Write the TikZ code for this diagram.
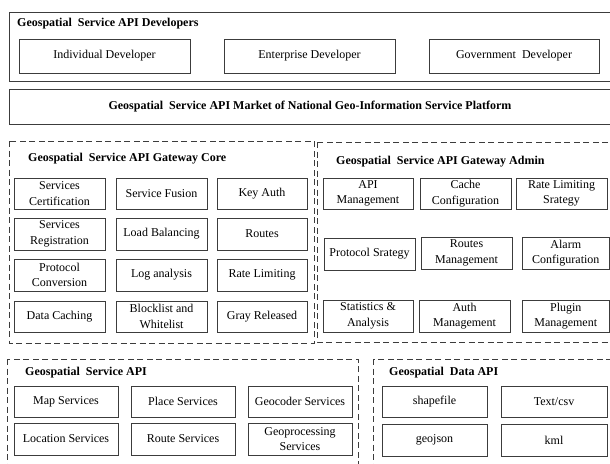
\documentclass[tikz,border=0pt]{standalone}
\usepackage{fontspec}
\setmainfont{Liberation Serif}
\definecolor{ln}{HTML}{3C3C3C}
\newcommand\mkbox[6]{\node[bx,minimum width={(#4-#2)*1pt},minimum height={(#5-#3)*1pt}] (#1) at ({(#2+#4)/2},{(#3+#5)/2}) {#6};}
\begin{document}
\begin{tikzpicture}[x=1pt,y=-1pt,
  bx/.style={draw=ln, line width=0.9pt, inner sep=0pt, align=center, text=black,
             font=\fontsize{12}{15.5}\selectfont},
  ttl/.style={anchor=west, inner sep=0pt, text=black, font=\fontsize{12}{15}\selectfont\bfseries},
  solidframe/.style={draw=ln, line width=1pt},
  dashframe/.style={draw=ln, line width=0.9pt, dash pattern=on 6pt off 3.5pt}]
\useasboundingbox (0,0) rectangle (610,463);
\clip (0,0) rectangle (610,463);
% developers
\draw[solidframe] (9,12) rectangle (614,81);
\node[ttl] (tdev) at (17,24) {Geospatial~~Service API Developers};
\mkbox{ind}{19}{39}{190}{73}{Individual Developer}
\mkbox{ent}{224}{39}{395}{73}{Enterprise Developer}
\mkbox{gov}{429}{39}{599}{73}{Government~~Developer}
% market
\node[solidframe, minimum width=605pt, minimum height=35pt, inner sep=0pt, anchor=north west,
      font=\fontsize{12}{15}\selectfont\bfseries] (mkt) at (9,89)
      {\hspace*{-4pt}Geospatial~~Service API Market of National Geo-Information Service Platform};
% gateway core
\draw[dashframe] (9,141) rectangle (314,343);
\node[ttl] (tcore) at (28,159) {Geospatial~~Service API Gateway Core};
\mkbox{c11}{14}{178}{105}{209}{Services\\Certification}
\mkbox{c12}{116}{178}{207}{209}{Service Fusion}
\mkbox{c13}{217}{178}{307}{209}{Key Auth}
\mkbox{c21}{14}{218}{105}{250}{Services\\Registration}
\mkbox{c22}{116}{218}{207}{250}{Load Balancing}
\mkbox{c23}{217}{218}{307}{250}{Routes}
\mkbox{c31}{14}{259}{105}{291}{Protocol\\Conversion}
\mkbox{c32}{116}{259}{207}{291}{Log analysis}
\mkbox{c33}{217}{259}{307}{291}{Rate Limiting}
\mkbox{c41}{14}{301}{105}{332}{Data Caching}
\mkbox{c42}{116}{301}{207}{332}{Blocklist and\\Whitelist}
\mkbox{c43}{217}{301}{307}{332}{Gray Released}
% gateway admin
\draw[dashframe] (317,142) rectangle (614,342);
\node[ttl] (tadm) at (336,162) {Geospatial~~Service API Gateway Admin};
\mkbox{a11}{323}{178}{413}{209}{API\\Management}
\mkbox{a12}{420}{178}{511}{209}{Cache\\Configuration}
\mkbox{a13}{516}{178}{607}{209}{Rate Limiting\\Srategy}
\mkbox{a21}{324}{238}{415}{270}{Protocol Srategy}
\mkbox{a22}{421}{237}{512}{269}{Routes\\Management}
\mkbox{a23}{522}{237}{609.5}{269}{Alarm\\Configuration}
\mkbox{a31}{323}{300}{413}{332}{Statistics \&\\Analysis}
\mkbox{a32}{419}{300}{510}{332}{Auth\\Management}
\mkbox{a33}{522}{300}{609.5}{332}{Plugin\\Management}
% service API
\draw[dashframe] (7,359) rectangle (358,475);
\node[ttl] (tsrv) at (25,373) {Geospatial~~Service API};
\mkbox{s11}{14}{386}{118}{417}{Map Services}
\mkbox{s12}{131}{386}{235}{417}{Place Services}
\mkbox{s13}{248}{386}{352}{417}{Geocoder Services}
\mkbox{s21}{14}{423}{118}{455}{Location Services}
\mkbox{s22}{131}{423}{235}{455}{Route Services}
\mkbox{s23}{248}{423}{352}{455}{Geoprocessing\\Services}
% data API
\draw[dashframe] (373,359) rectangle (614,475);
\node[ttl] (tdat) at (389,373) {Geospatial~~Data API};
\mkbox{d11}{382}{386}{487}{417}{shapefile}
\mkbox{d12}{501}{386}{607}{417}{Text/csv}
\mkbox{d21}{382}{424}{487}{456}{geojson}
\mkbox{d22}{501}{424}{607}{456}{kml}
\end{tikzpicture}
\end{document}
